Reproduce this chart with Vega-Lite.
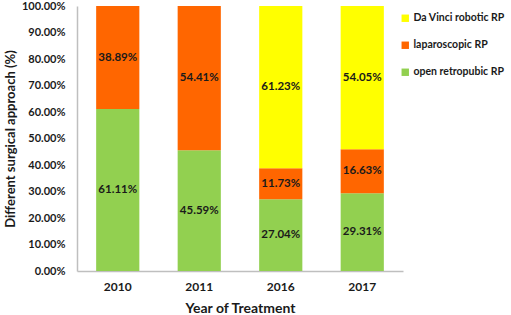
{
  "$schema": "https://vega.github.io/schema/vega-lite/v6.json",
  "autosize": {"type": "none"},
  "padding": {"left": 77, "top": 6, "right": 108, "bottom": 44},
  "width": 326,
  "height": 265,
  "background": "white",
  "config": {
    "view": {"stroke": null},
    "font": "Lato",
    "axis": {"grid": false, "domainColor": "#BFBFBF", "domainWidth": 1.5, "ticks": false, "labelOverlap": false, "labelFont": "Lato", "labelFontWeight": "bold", "labelColor": "#1a1a1a", "titleFont": "Lato", "titleFontWeight": "bold", "titleColor": "#1a1a1a"}
  },
  "data": {"values": [
    {"year": "2010", "approach": "open retropubic RP", "value": 0.6111},
    {"year": "2010", "approach": "laparoscopic RP", "value": 0.3889},
    {"year": "2011", "approach": "open retropubic RP", "value": 0.4559},
    {"year": "2011", "approach": "laparoscopic RP", "value": 0.5441},
    {"year": "2016", "approach": "open retropubic RP", "value": 0.2704},
    {"year": "2016", "approach": "laparoscopic RP", "value": 0.1173},
    {"year": "2016", "approach": "Da Vinci robotic RP", "value": 0.6123},
    {"year": "2017", "approach": "open retropubic RP", "value": 0.2931},
    {"year": "2017", "approach": "laparoscopic RP", "value": 0.1663},
    {"year": "2017", "approach": "Da Vinci robotic RP", "value": 0.5405}
  ]},
  "encoding": {
    "x": {"field": "year", "type": "nominal", "title": "Year of Treatment",
      "scale": {"paddingInner": 0.47, "paddingOuter": 0.235},
      "axis": {"labelAngle": 0, "labelFontSize": 12, "titleFontSize": 14, "labelPadding": 10, "titlePadding": 9}},
    "order": {"field": "approach", "sort": "descending"}
  },
  "layer": [
    {
      "mark": {"type": "bar"},
      "encoding": {
        "y": {"field": "value", "type": "quantitative", "stack": "zero",
          "scale": {"domain": [0, 1]},
          "title": "Different surgical approach (%)",
          "axis": {"format": ".2%", "values": [0, 0.1, 0.2, 0.3, 0.4, 0.5, 0.6, 0.7, 0.8, 0.9, 1], "labelOverlap": false, "labelFlush": false, "labelFontSize": 11, "titleFontSize": 13, "labelPadding": 12, "titlePadding": 4}},
        "color": {"field": "approach", "type": "nominal",
          "scale": {"domain": ["Da Vinci robotic RP", "laparoscopic RP", "open retropubic RP"], "range": ["#FFFF00", "#FF6600", "#92D050"]},
          "legend": {"title": null, "orient": "none", "legendX": 323, "legendY": 7, "symbolType": "square", "symbolSize": 55, "symbolStrokeWidth": 0, "labelFont": "Lato", "labelFontWeight": "bold", "labelFontSize": 10.5, "labelColor": "#1a1a1a", "rowPadding": 16, "labelOffset": 3}}
      }
    },
    {
      "mark": {"type": "text", "font": "Lato", "fontWeight": "bold", "fontSize": 11.5, "color": "#1a1a1a", "baseline": "middle"},
      "encoding": {
        "y": {"field": "value", "type": "quantitative", "stack": "zero", "bandPosition": 0.5,
          "scale": {"domain": [0, 1]},
          "title": "Different surgical approach (%)",
          "axis": {"format": ".2%", "values": [0, 0.1, 0.2, 0.3, 0.4, 0.5, 0.6, 0.7, 0.8, 0.9, 1], "labelOverlap": false, "labelFlush": false, "labelFontSize": 11, "titleFontSize": 13, "labelPadding": 12, "titlePadding": 4}},
        "text": {"field": "value", "type": "quantitative", "format": ".2%"}
      }
    }
  ]
}
